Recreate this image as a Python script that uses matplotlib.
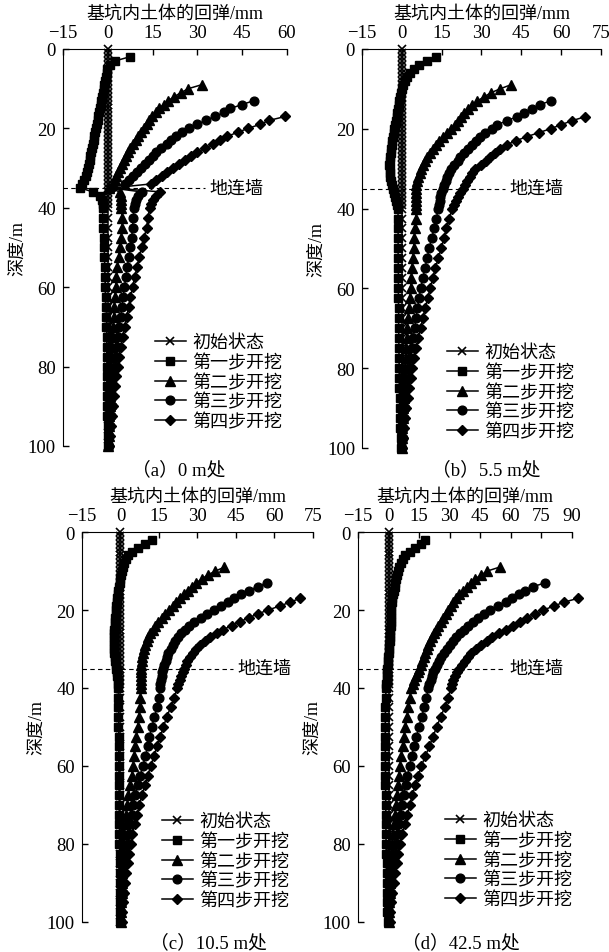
import numpy as np
import matplotlib.pyplot as plt

plt.rcParams['font.family'] = ['Liberation Serif', 'Noto Sans CJK SC']
plt.rcParams['axes.unicode_minus'] = True

# 深度网格: 0-39 m 每 1 m, 40-100 m 每 2.5 m
depth_top = np.arange(0, 40)
depth_deep = np.arange(40, 100.01, 2.5)

labels = ['初始状态', '第一步开挖', '第二步开挖', '第三步开挖', '第四步开挖']
markers = ['x', 's', '^', 'o', 'D']
msizes = [5.5, 5.8, 6.5, 6.3, 5.2]

initial_state = [0.0] * 65

# (a) 0 m处
a_sq_top = [7.3, 2.5, 0.8, -0.1, -0.4, -0.6, -0.9, -1.1, -1.4, -1.7,
            -1.9, -2.2, -2.4, -2.7, -2.9, -3.2, -3.4, -3.7, -4.0, -4.2,
            -4.5, -4.7, -5.0, -5.3, -5.5, -5.8, -6.0, -6.3, -6.6, -6.9,
            -7.3, -7.8, -8.5, -9.3, -5.0, -2.5, -1.8, -1.7]
a_sq_deep = [-1.7, -1.7, -1.6, -1.4, -1.2, -1.1, -1.0, -0.9, -0.8, -0.7,
             -0.6, -0.5, -0.5, -0.4, -0.4, -0.3, -0.3, -0.2, -0.2, -0.1,
             -0.1, -0.1, 0.0, 0.0, 0.0]
a_tri_top = [31.5, 27.0, 24.5, 22.3, 20.3, 18.7, 17.2, 16.0, 14.8, 13.8,
             13.0, 12.0, 11.0, 10.2, 9.4, 8.5, 7.6, 6.9, 6.2, 5.5,
             4.8, 4.2, 3.5, 2.9, 2.3, 1.7, 0.5, 4.0, 4.3, 4.4,
             4.5]
a_tri_deep = [4.5, 4.8, 4.8, 4.5, 4.0, 3.6, 3.2, 2.9, 2.6, 2.4,
              2.2, 2.0, 1.8, 1.6, 1.5, 1.3, 1.2, 1.0, 0.9, 0.8,
              0.6, 0.5, 0.4, 0.3, 0.2]
a_cir_top = [49.0, 45.0, 41.0, 39.0, 36.0, 32.8, 30.0, 27.2, 25.0, 23.0,
             21.3, 19.7, 17.8, 16.2, 15.0, 13.8, 12.5, 11.2, 9.8, 8.5,
             7.2, 5.8, 1.0, 11.3, 10.2, 9.4, 9.0]
a_cir_deep = [8.8, 8.5, 8.3, 8.0, 7.6, 7.0, 6.5, 6.0, 5.6, 5.1,
              4.7, 4.3, 3.9, 3.5, 3.1, 2.7, 2.4, 2.1, 1.8, 1.5,
              1.3, 1.0, 0.8, 0.5, 0.3]
a_dia_top = [59.5, 54.0, 51.0, 47.0, 43.5, 40.0, 37.5, 35.3, 32.5, 30.0,
             28.0, 25.8, 24.0, 21.8, 20.0, 18.2, 16.3, 14.5, 1.5, 17.5,
             16.3, 15.2, 14.5]
a_dia_deep = [14.0, 13.5, 13.0, 12.2, 11.3, 10.5, 9.8, 9.0, 8.3, 7.6,
              7.0, 6.3, 5.7, 5.0, 4.4, 3.8, 3.3, 2.8, 2.4, 2.0,
              1.7, 1.3, 1.0, 0.7, 0.5]

# (b) 5.5 m处
b_sq_top = [13.0, 9.5, 6.5, 4.5, 3.0, 2.0, 1.2, 0.5, 0.0, -0.3,
            -0.6, -0.9, -1.2, -1.5, -1.8, -2.0, -2.3, -2.6, -2.8, -3.1,
            -3.3, -3.6, -3.8, -4.0, -4.2, -4.4, -4.6, -4.7, -4.6, -4.5,
            -4.3, -4.0, -3.7, -3.4, -3.0, -2.6, -2.2, -1.8]
b_sq_deep = [-1.5, -1.4, -1.4, -1.4, -1.4, -1.4, -1.3, -1.3, -1.3, -1.3,
             -1.2, -1.2, -1.2, -1.1, -1.1, -1.0, -1.0, -0.9, -0.9, -0.8,
             -0.7, -0.6, -0.5, -0.4, -0.3]
b_tri_top = [41.0, 37.0, 33.5, 31.0, 28.5, 26.5, 25.0, 23.5, 22.2, 21.0,
             20.0, 18.6, 17.0, 15.5, 14.1, 12.8, 11.6, 10.5, 9.5, 8.7,
             8.0, 7.3, 6.7, 6.2, 5.8, 5.5, 5.3, 5.2, 5.2, 5.2,
             5.2]
b_tri_deep = [5.3, 5.3, 5.0, 4.7, 4.4, 4.1, 3.8, 3.6, 3.3, 3.0,
              2.6, 2.3, 2.0, 1.8, 1.6, 1.4, 1.2, 1.0, 0.9, 0.7,
              0.5, 0.4, 0.2, 0.1, 0.0]
b_cir_top = [56.0, 52.0, 49.0, 46.0, 43.3, 39.5, 36.0, 33.8, 31.5, 29.5,
             28.0, 26.5, 25.0, 23.4, 22.1, 21.0, 19.8, 18.6, 17.8, 17.2,
             16.6, 16.0, 15.4, 14.9, 14.5, 14.2, 13.9]
b_cir_deep = [13.7, 13.0, 12.2, 11.2, 10.3, 9.5, 8.7, 7.9, 7.1, 6.5,
              5.9, 5.3, 4.8, 4.3, 3.7, 3.2, 2.8, 2.4, 2.0, 1.6,
              1.3, 0.9, 0.6, 0.3, 0.0]
b_dia_top = [69.0, 64.0, 60.0, 56.0, 51.5, 47.0, 43.0, 39.5, 37.0, 35.0,
             33.3, 31.6, 29.8, 27.6, 26.5, 25.5, 24.6, 23.9, 23.0, 22.0,
             21.1, 20.3, 19.6]
b_dia_deep = [19.0, 17.8, 16.8, 15.8, 14.8, 13.7, 12.6, 11.6, 10.7, 9.7,
              8.8, 7.9, 7.1, 6.2, 5.4, 4.7, 4.0, 3.4, 2.8, 2.2,
              1.7, 1.2, 0.8, 0.4, 0.0]

# (c) 10.5 m处
c_sq_top = [12.4, 9.5, 6.7, 4.5, 2.8, 2.0, 1.5, 1.1, 0.7, 0.3,
            0.0, -0.3, -0.6, -0.8, -1.0, -1.2, -1.4, -1.6, -1.7, -1.9,
            -2.0, -2.2, -2.3, -2.5, -2.6, -2.6, -2.6, -2.6, -2.6, -2.5,
            -2.3, -2.1, -1.9, -1.7, -1.5, -1.3, -1.1, -1.0]
c_sq_deep = [-0.9, -0.9, -0.8, -0.8, -0.8, -0.7, -0.7, -0.7, -0.6, -0.6,
             -0.6, -0.5, -0.5, -0.5, -0.4, -0.4, -0.4, -0.3, -0.3, -0.3,
             -0.2, -0.2, -0.1, -0.1, 0.0]
c_tri_top = [40.5, 37.0, 34.0, 31.8, 29.6, 27.7, 26.3, 24.8, 23.3, 21.8,
             20.4, 19.0, 17.5, 16.0, 14.6, 13.5, 12.5, 11.6, 10.8, 10.2,
             9.6, 9.1, 8.8, 8.5, 8.3, 8.1, 8.0, 7.9, 7.9, 7.9,
             7.9]
c_tri_deep = [7.9, 7.8, 7.5, 7.1, 6.7, 6.2, 5.8, 5.3, 4.8, 4.3,
              3.7, 3.1, 2.6, 2.2, 1.8, 1.5, 1.3, 1.1, 0.9, 0.7,
              0.6, 0.5, 0.4, 0.3, 0.2]
c_cir_top = [57.0, 53.5, 50.0, 47.0, 44.3, 41.8, 39.2, 36.5, 33.8, 31.2,
             28.8, 26.8, 25.0, 23.6, 22.4, 21.4, 20.4, 19.5, 18.7, 18.1,
             17.6, 17.1, 16.7, 16.3, 16.0, 15.7, 15.5]
c_cir_deep = [15.3, 15.0, 14.2, 13.2, 12.2, 11.3, 10.6, 9.7, 8.7, 7.7,
              6.8, 5.8, 5.0, 4.4, 3.9, 3.4, 2.9, 2.4, 1.7, 1.3,
              1.0, 0.8, 0.6, 0.4, 0.2]
c_dia_top = [70.0, 66.0, 62.0, 57.5, 53.5, 50.0, 46.5, 43.5, 40.0, 37.5,
             35.0, 32.8, 31.0, 29.6, 28.3, 27.0, 26.1, 25.4, 24.8, 24.2,
             23.6, 23.1, 22.6]
c_dia_deep = [22.0, 21.0, 19.5, 18.0, 16.7, 15.5, 14.2, 13.0, 11.8, 10.6,
              9.5, 8.3, 7.4, 6.5, 5.5, 4.6, 4.0, 3.4, 2.9, 2.3,
              1.8, 1.4, 1.0, 0.7, 0.5]

# (d) 42.5 m处
d_sq_top = [17.7, 15.8, 12.8, 10.3, 8.2, 7.0, 6.0, 5.2, 4.6, 4.1,
            3.8, 3.4, 3.0, 2.6, 2.2, 1.9, 1.6, 1.4, 1.3, 1.2,
            1.1, 1.0, 1.0, 0.9, 0.8, 0.7, 0.6, 0.4, 0.3, 0.1,
            -0.1, -0.3, -0.5, -0.6, -0.8, -0.9, -1.0, -1.1]
d_sq_deep = [-1.2, -1.4, -1.5, -1.6, -1.6, -1.6, -1.6, -1.6, -1.5, -1.5,
             -1.5, -1.4, -1.4, -1.3, -1.3, -1.2, -1.2, -1.1, -1.0, -1.0,
             -0.9, -0.8, -0.7, -0.6, -0.5]
d_tri_top = [54.5, 48.5, 45.5, 42.5, 40.3, 38.5, 36.5, 34.5, 33.0, 31.7,
             30.5, 29.2, 28.0, 26.8, 25.5, 24.4, 23.3, 22.3, 21.3, 20.5,
             19.6, 18.8, 18.1, 17.3, 16.6, 15.8, 15.0, 14.3, 13.5, 12.7,
             11.9]
d_tri_deep = [11.2, 10.4, 9.7, 9.0, 8.3, 7.6, 6.9, 6.2, 5.5, 5.0,
              4.5, 4.0, 3.6, 3.1, 2.6, 2.1, 1.8, 1.5, 1.1, 0.9,
              0.7, 0.5, 0.3, 0.1, 0.0]
d_cir_top = [77.0, 71.0, 67.0, 64.0, 60.8, 57.5, 53.5, 50.0, 47.0, 44.0,
             41.2, 38.8, 37.0, 35.0, 33.3, 31.7, 30.0, 28.5, 27.0, 25.7,
             24.6, 23.6, 22.6, 21.8, 21.2, 20.6, 20.0]
d_cir_deep = [19.6, 18.6, 17.5, 16.2, 14.8, 13.7, 12.4, 11.3, 10.3, 9.3,
              8.4, 7.4, 6.6, 5.9, 5.1, 4.4, 3.8, 3.2, 2.7, 2.1,
              1.6, 1.1, 0.7, 0.3, 0.0]
d_dia_top = [93.0, 86.0, 81.0, 76.0, 72.0, 68.0, 64.3, 61.0, 57.5, 54.0,
             51.0, 48.2, 45.5, 42.8, 40.5, 38.8, 37.3, 36.0, 34.8, 33.6,
             32.6, 31.7, 30.9]
d_dia_deep = [30.5, 29.3, 27.5, 25.5, 23.6, 21.8, 20.0, 18.0, 16.1, 14.6,
              13.1, 11.6, 10.4, 9.2, 8.0, 6.8, 5.8, 4.8, 4.0, 3.2,
              2.5, 1.9, 1.3, 0.9, 0.5]


def series_depth(top):
    return np.concatenate([depth_top[len(depth_top) - len(top):], depth_deep])


def draw_panel(rect, xmax, steps, caption, cap_xy, leg_xy, wall_frac):
    ax = fig.add_axes(rect)
    dep = np.concatenate([depth_top, depth_deep])
    ax.plot(initial_state, dep, color='k', lw=1.1, marker=markers[0],
            ms=msizes[0], mew=1.2, label=labels[0], clip_on=False)
    for i, (top, deep) in enumerate(steps):
        ax.plot(top + deep, series_depth(top), color='k', lw=1.1,
                marker=markers[i + 1], ms=msizes[i + 1], label=labels[i + 1],
                clip_on=False)
    ax.set_xlim(-15, xmax)
    ax.set_ylim(100, 0)
    ax.set_xticks(np.arange(-15, xmax + 1, 15))
    ax.set_yticks([0, 20, 40, 60, 80, 100])
    ax.xaxis.tick_top()
    ax.xaxis.set_label_position('top')
    ax.tick_params(direction='in', length=4, width=1, labelsize=13.5)
    ax.tick_params(axis='x', pad=6)
    ax.tick_params(axis='y', pad=5)
    for s in ['right', 'bottom']:
        ax.spines[s].set_visible(False)
    ax.set_xlabel('基坑内土体的回弹/mm', fontsize=13, labelpad=4)
    ax.set_ylabel('深度/m', fontsize=13, labelpad=1)
    # 地连墙位置
    ax.axhline(35, xmin=0, xmax=wall_frac, color='k', lw=0.8, ls=(0, (4, 3)))
    ax.text(wall_frac + 0.02, 35, '地连墙', transform=ax.get_yaxis_transform(),
            va='center', ha='left', fontsize=13)
    ax.legend(loc='upper left', bbox_to_anchor=leg_xy, bbox_transform=fig.transFigure,
              frameon=False, fontsize=13, handlelength=1.7, handletextpad=0.35,
              labelspacing=0.14, borderpad=0, borderaxespad=0)
    fig.text(cap_xy[0], cap_xy[1], caption, ha='center', va='center', fontsize=13.5)
    return ax


fig = plt.figure(figsize=(6.09, 9.53), dpi=100)

draw_panel([0.1034, 0.5310, 0.3678, 0.4166], 60,
           [(a_sq_top, a_sq_deep), (a_tri_top, a_tri_deep),
            (a_cir_top, a_cir_deep), (a_dia_top, a_dia_deep)],
           '（a）0 m处', (0.293, 0.507), (0.2545, 0.6484), 0.634)
draw_panel([0.5944, 0.5289, 0.3924, 0.4187], 75,
           [(b_sq_top, b_sq_deep), (b_tri_top, b_tri_deep),
            (b_cir_top, b_cir_deep), (b_dia_top, b_dia_deep)],
           '（b）5.5 m处', (0.798, 0.507), (0.734, 0.6379), 0.598)
draw_panel([0.1346, 0.0315, 0.3793, 0.4092], 75,
           [(c_sq_top, c_sq_deep), (c_tri_top, c_tri_deep),
            (c_cir_top, c_cir_deep), (c_dia_top, c_dia_deep)],
           '（c）10.5 m处', (0.343, 0.0105), (0.266, 0.1458), 0.654)
draw_panel([0.5878, 0.0315, 0.3514, 0.4092], 90,
           [(d_sq_top, d_sq_deep), (d_tri_top, d_tri_deep),
            (d_cir_top, d_cir_deep), (d_dia_top, d_dia_deep)],
           '（d）42.5 m处', (0.756, 0.0105), (0.7307, 0.1468), 0.687)

fig.savefig('out.png', dpi=100)
